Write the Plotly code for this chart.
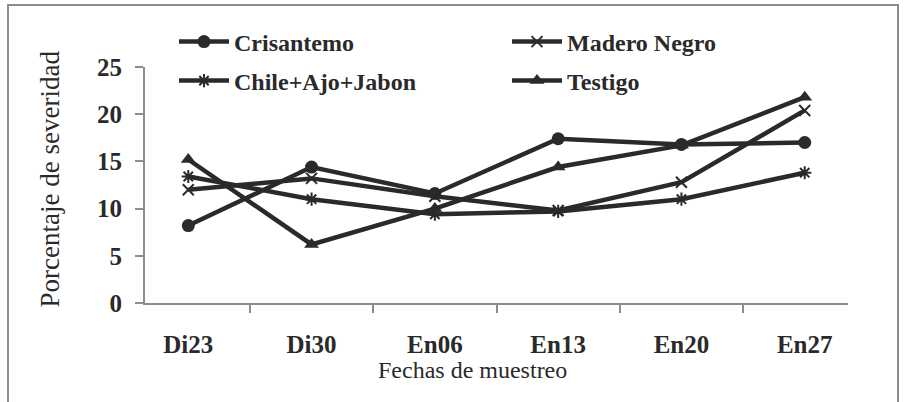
import plotly.graph_objects as go

categories = ["Di23", "Di30", "En06", "En13", "En20", "En27"]
crisantemo = [8.2, 14.4, 11.6, 17.4, 16.8, 17.0]
madero_negro = [12.0, 13.2, 11.3, 9.8, 12.8, 20.4]
chile_ajo_jabon = [13.4, 11.0, 9.4, 9.7, 11.0, 13.8]
testigo = [15.2, 6.2, 10.0, 14.4, 16.7, 21.8]

series_names = ["Crisantemo", "Madero Negro", "Chile+Ajo+Jabon", "Testigo"]
series_values = [crisantemo, madero_negro, chile_ajo_jabon, testigo]
symbols = ["circle", "x-thin-open", "asterisk-open", "triangle-up"]
legend_ids = ["legend", "legend2", "legend3", "legend4"]

INK = "#2a2a2a"
AXIS = "#8c8c8c"
FONT = "Liberation Serif, Times New Roman, Times, serif"

W, H = 907, 402
L, R, T, B = 145, 59, 67, 99
pw, ph = W - L - R, H - T - B

def px_x(p):
    return (p - L) / pw

def px_y(p):
    return (H - B - p) / ph

fig = go.Figure()
for name, vals, sym, lg in zip(series_names, series_values, symbols, legend_ids):
    is_open = sym.endswith("open")
    fig.add_trace(go.Scatter(
        x=categories, y=vals, name=name, mode="lines+markers",
        line=dict(color=INK, width=4.5),
        marker=dict(symbol=sym, size=13 if not is_open else 11, color=INK,
                    line=dict(color=INK, width=2 if is_open else 0)),
        legend=lg,
    ))

legend_pos = [(174, 42), (507, 42), (174, 81), (507, 81)]
for lg, (lx, ly) in zip(legend_ids, legend_pos):
    fig.update_layout({lg: dict(
        x=px_x(lx), y=px_y(ly), xanchor="left", yanchor="middle",
        font=dict(family=FONT, size=24, color=INK, weight="bold"),
        bgcolor="rgba(0,0,0,0)", borderwidth=0, itemwidth=50,
    )})

fig.update_layout(
    width=W, height=H,
    margin=dict(l=L, r=R, t=T, b=B, autoexpand=False),
    paper_bgcolor="white", plot_bgcolor="white",
    font=dict(family=FONT, color=INK),
    showlegend=True,
    xaxis=dict(
        type="category", tickson="boundaries", ticks="outside", ticklen=8,
        tickcolor=AXIS, tickwidth=2, showline=True, linecolor=AXIS, linewidth=2,
        showgrid=False, zeroline=False,
        tickfont=dict(family=FONT, size=25, color=INK, weight="bold"),
        ticklabelstandoff=18,
    ),
    yaxis=dict(
        range=[0, 25], dtick=5, ticks="outside", ticklen=8, tickcolor=AXIS, tickwidth=2,
        showline=True, linecolor=AXIS, linewidth=2, showgrid=False, zeroline=False,
        tickfont=dict(family=FONT, size=25, color=INK, weight="bold"),
        ticklabelstandoff=8,
    ),
    shapes=[dict(type="rect", xref="paper", yref="paper",
                 x0=px_x(8), x1=px_x(898), y0=px_y(420), y1=px_y(5),
                 line=dict(color=AXIS, width=2), fillcolor="rgba(0,0,0,0)", layer="below")],
    annotations=[
        dict(text="Fechas de muestreo", xref="paper", yref="paper",
             x=px_x(472.5), y=px_y(370), xanchor="center", yanchor="middle",
             showarrow=False, font=dict(family=FONT, size=24, color=INK)),
        dict(text="Porcentaje de severidad", xref="paper", yref="paper",
             x=px_x(49), y=px_y(178.5), xanchor="center", yanchor="middle", textangle=-90,
             showarrow=False, font=dict(family=FONT, size=27, color=INK)),
    ],
)

fig.write_html("out.html", config={"displayModeBar": False},
               post_script="document.body.style.margin='0';")
